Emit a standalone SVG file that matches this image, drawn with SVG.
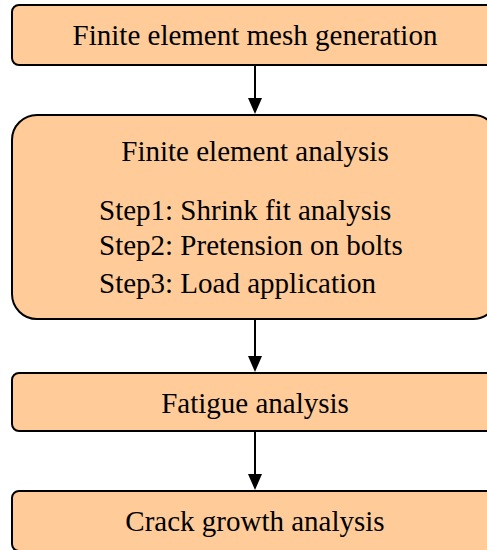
<svg xmlns="http://www.w3.org/2000/svg" width="487" height="550" viewBox="0 0 487 550">
<style>
.box{fill:#FFCC99;stroke:#000;stroke-width:2}
.t{font-family:'Liberation Serif','Times New Roman',serif;font-size:29px;fill:#000}
.c{text-anchor:middle}
.ln{stroke:#000;stroke-width:2;fill:none}
.ah{fill:#000}
</style>
<rect width="487" height="550" fill="#fff"/>
<g id="connectors">
<line class="ln" x1="255" y1="65" x2="255" y2="100"/>
<polygon class="ah" points="248,98 262,98 255,114"/>
<line class="ln" x1="255" y1="319" x2="255" y2="358"/>
<polygon class="ah" points="248,356 262,356 255,372"/>
<line class="ln" x1="255" y1="431" x2="255" y2="476"/>
<polygon class="ah" points="248,474 262,474 255,490"/>
</g>
<g id="mesh">
<rect class="box" x="12" y="5" width="486" height="60" rx="7"/>
<text class="t c" x="255" y="45">Finite element mesh generation</text>
</g>
<g id="fea">
<rect class="box" x="12" y="115" width="486" height="204" rx="25"/>
<text class="t c" x="255" y="161">Finite element analysis</text>
<text class="t" x="99" y="220">Step1: Shrink fit analysis</text>
<text class="t" x="99" y="255">Step2: Pretension on bolts</text>
<text class="t" x="99" y="293">Step3: Load application</text>
</g>
<g id="fatigue">
<rect class="box" x="12" y="373" width="486" height="58" rx="7"/>
<text class="t c" x="255" y="413">Fatigue analysis</text>
</g>
<g id="crack">
<rect class="box" x="12" y="491" width="486" height="60" rx="7"/>
<text class="t c" x="255" y="531">Crack growth analysis</text>
</g>
</svg>
